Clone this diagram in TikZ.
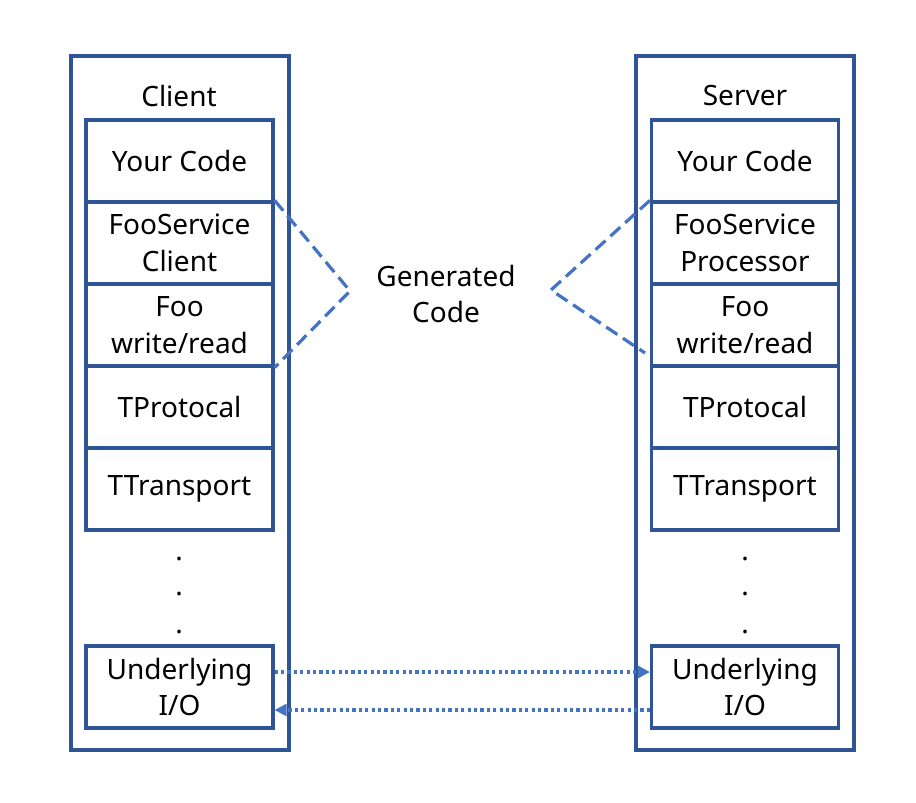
\documentclass[tikz,border=0pt]{standalone}
\usepackage{fontspec}
\setmainfont{Noto Sans}
\usetikzlibrary{arrows.meta}
\definecolor{boxblue}{HTML}{2F5597}
\definecolor{lineblue}{HTML}{4472C4}
\begin{document}
\begin{tikzpicture}[x=0.75pt,y=-0.75pt,
  outerbox/.style={draw=boxblue,line width=2.4pt,minimum width=163.5pt,minimum height=520.5pt,inner sep=0pt},
  layer/.style={draw=boxblue,line width=2.4pt,minimum width=140.25pt,minimum height=61.5pt,inner sep=0pt,align=center,font=\fontsize{21}{27.5}\selectfont},
  lbl/.style={font=\fontsize{21}{27.5}\selectfont,align=center},
  gen/.style={draw=lineblue,line width=2.4pt,dash pattern=on 10pt off 5pt},
  io/.style={draw=lineblue,line width=2.4pt,dash pattern=on 2.4pt off 2.4pt,-{Triangle[length=9pt,width=9pt]}}]
\useasboundingbox (0,0) rectangle (916,802);
% outer boxes
\node[outerbox] (cl) at (180,403) {};
\node[outerbox] (sv) at (745,403) {};
\node[lbl] (clt) at (179,96) {Client};
\node[lbl] (svt) at (745,96) {Server};
% client layers
\node[layer] (c1) at (179.5,161) {Your Code};
\node[layer] (c2) at (179.5,243) {FooService\\Client};
\node[layer] (c3) at (179.5,325) {Foo\\write/read};
\node[layer] (c4) at (179.5,407) {TProtocal};
\node[layer] (c5) at (179.5,489) {TTransport};
\node[layer] (c6) at (179.5,687) {Underlying\\I/O};
% server layers
\node[layer] (s1) at (745,161) {Your Code};
\node[layer] (s2) at (745,243) {FooService\\Processor};
\node[layer] (s3) at (745,325) {Foo\\write/read};
\node[layer] (s4) at (745,407) {TProtocal};
\node[layer] (s5) at (745,489) {TTransport};
\node[layer] (s6) at (745,687) {Underlying\\I/O};
% dots
\foreach \yy/\nm in {560/a,595/b,633/c}{
  \node[lbl,anchor=base] (cd\nm) at (179,\yy) {.};
  \node[lbl,anchor=base] (sd\nm) at (745,\yy) {.};
}
% generated code
\node[lbl] (gc) at (446,294) {Generated\\Code};
\coordinate (la) at (350,291);
\coordinate (ra) at (551,290);
\coordinate (re) at (645,353);
\draw[gen] (c2.north east) -- (la) -- (c3.south east);
\draw[gen] (s2.north west) -- (ra) -- (re);
% io arrows
\draw[io] ([yshift=11.25pt]c6.east) -- ([yshift=11.25pt]s6.west);
\draw[io] ([yshift=-17.25pt]s6.west) -- ([yshift=-17.25pt]c6.east);
\end{tikzpicture}
\end{document}
